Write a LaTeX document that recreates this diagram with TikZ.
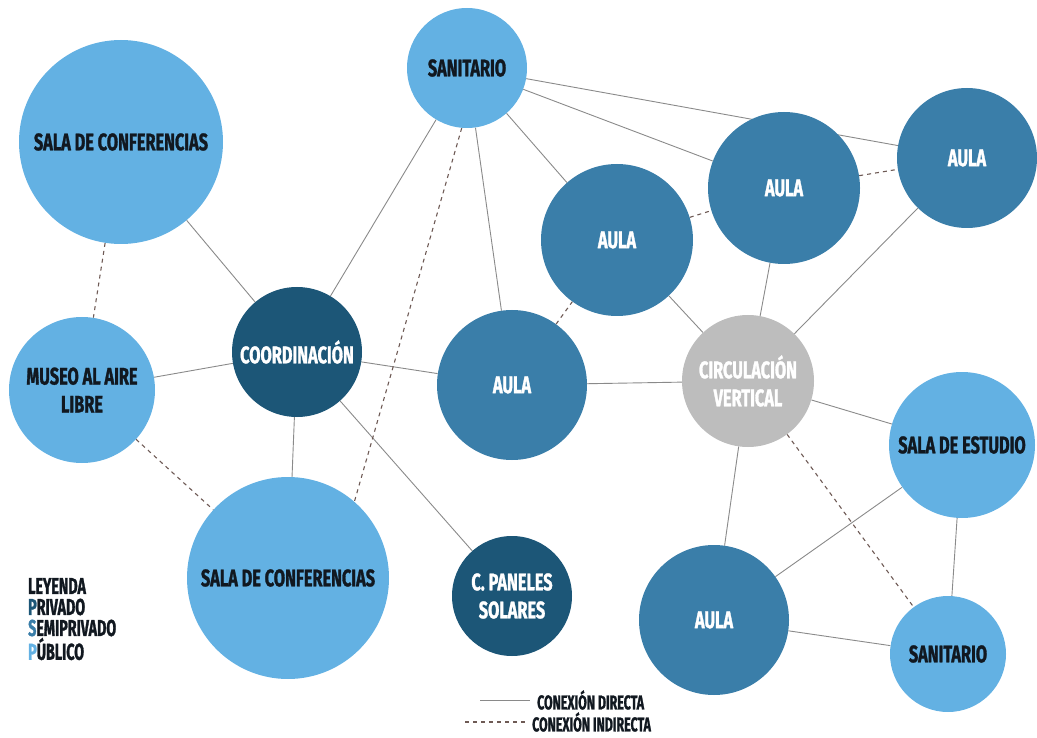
\documentclass[tikz,border=0pt]{standalone}
\usepackage{fontspec}
\newfontfamily\lab[FakeStretch=0.68, BoldFeatures={FakeBold=1.2}]{Fira Sans}
\newfontfamily\legf[FakeStretch=0.62, BoldFeatures={FakeBold=1.2}]{Fira Sans}
\usetikzlibrary{backgrounds}
\definecolor{publico}{HTML}{63B1E3}
\definecolor{semipriv}{HTML}{3A7EA9}
\definecolor{privado}{HTML}{1C5677}
\definecolor{circgray}{HTML}{BDBDBD}
\definecolor{linegray}{HTML}{8A8A8A}
\definecolor{dashcol}{HTML}{6E5A55}
\definecolor{txtdark}{HTML}{111820}
\tikzset{
  room/.style={circle, inner sep=0pt, align=center, font=\lab\bfseries\fontsize{24}{28}\selectfont},
  pub/.style={room, fill=publico, text=txtdark},
  semi/.style={room, fill=semipriv, text=white},
  priv/.style={room, fill=privado, text=white},
  circv/.style={room, fill=circgray, text=white},
  direct/.style={draw=linegray, line width=0.9pt},
  indirect/.style={draw=dashcol, line width=1.1pt, dash pattern=on 4pt off 4pt},
  legtxt/.style={font=\legf\bfseries\fontsize{23}{24}\selectfont, anchor=west, inner sep=0pt, text=txtdark},
  legsm/.style={font=\legf\bfseries\fontsize{20}{22}\selectfont, anchor=west, inner sep=0pt, text=txtdark}
}
\begin{document}
\begin{tikzpicture}[x=1pt,y=-1pt]
\useasboundingbox (0,0) rectangle (1037,738);
% nodes
\node[pub, minimum size=204pt] (sc1) at (121,142) {SALA DE CONFERENCIAS};
\node[pub, minimum size=120pt] (san1) at (467,68) {SANITARIO};
\node[pub, minimum size=146pt] (mus) at (82,390) {MUSEO AL AIRE\\LIBRE};
\node[priv, minimum size=130pt] (coo) at (297,352) {COORDINACIÓN};
\node[pub, minimum size=202pt] (sc2) at (288,578) {SALA DE CONFERENCIAS};
\node[priv, minimum size=120pt] (pan) at (512,596) {C. PANELES\\SOLARES};
\node[semi, minimum size=150pt] (au1) at (512,385) {AULA};
\node[semi, minimum size=152pt] (au2) at (617,240) {AULA};
\node[semi, minimum size=152pt] (au3) at (784,188) {AULA};
\node[semi, minimum size=140pt] (au4) at (967,158) {AULA};
\node[circv, minimum size=132pt] (cir) at (748,381) {CIRCULACIÓN\\VERTICAL};
\node[pub, minimum size=146pt] (est) at (962,445) {SALA DE ESTUDIO};
\node[semi, minimum size=150pt] (au5) at (714,620) {AULA};
\node[pub, minimum size=116pt] (san2) at (948,654) {SANITARIO};
% connectors
\begin{scope}[on background layer]
\draw[direct] (sc1) -- (coo);
\draw[direct] (mus) -- (coo);
\draw[direct] (coo) -- (san1);
\draw[direct] (coo) -- (au1);
\draw[direct] (coo) -- (sc2);
\draw[direct] (coo) -- (pan);
\draw[direct] (san1) -- (au1);
\draw[direct] (san1) -- (au2);
\draw[direct] (san1) -- (au3);
\draw[direct] (san1) -- (au4);
\draw[direct] (au1) -- (cir);
\draw[direct] (au2) -- (cir);
\draw[direct] (au3) -- (cir);
\draw[direct] (au4) -- (cir);
\draw[direct] (cir) -- (est);
\draw[direct] (cir) -- (au5);
\draw[direct] (au5) -- (est);
\draw[direct] (au5) -- (san2);
\draw[direct] (est) -- (san2);
\draw[indirect] (sc1) -- (mus);
\draw[indirect] (mus) -- (sc2);
\draw[indirect] (san1.-95) -- (sc2.49);
\draw[indirect] (au1) -- (au2);
\draw[indirect] (au2) -- (au3);
\draw[indirect] (au3) -- (au4);
\draw[indirect] (cir) -- (san2);
\end{scope}
% legend
\node[legtxt] (ley) at (28,586) {LEYENDA};
\node[legtxt] (lpr) at (28,607) {\textcolor{privado}{P}RIVADO};
\node[legtxt] (lse) at (28,628) {\textcolor{semipriv}{S}EMIPRIVADO};
\node[legtxt] (lpu) at (28,649) {\textcolor{publico}{P}ÚBLICO};
\coordinate (d1) at (480,700);
\coordinate (d2) at (530,700);
\coordinate (i1) at (465,722);
\coordinate (i2) at (528,722);
\draw[direct] (d1) -- (d2);
\draw[indirect] (i1) -- (i2);
\node[legsm] (ldir) at (537,700) {CONEXIÓN DIRECTA};
\node[legsm] (lind) at (532,722) {CONEXIÓN INDIRECTA};
\end{tikzpicture}
\end{document}
